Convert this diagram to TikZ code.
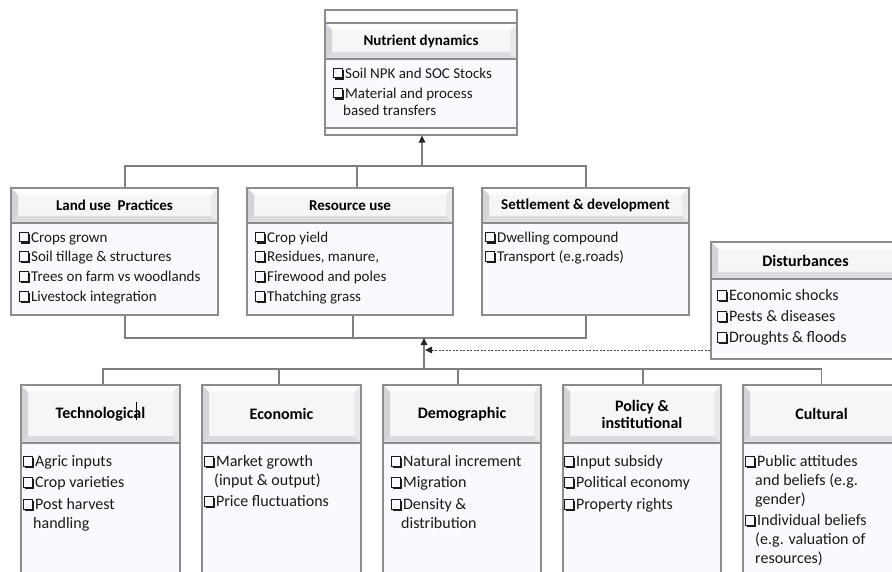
\documentclass[tikz,border=0pt]{standalone}
\usepackage{fontspec}
\setmainfont{Carlito}
\usetikzlibrary{arrows.meta}
\definecolor{bordc}{HTML}{8C8C8C}
\definecolor{bodyc}{HTML}{FAF9FD}
\definecolor{hdrc}{HTML}{F6F6F8}
\definecolor{bevL}{HTML}{D4D4D8}
\definecolor{bevB}{HTML}{DCDCE0}
\definecolor{bevR}{HTML}{EAEAEC}
\definecolor{bevT}{HTML}{FDFDFE}
\definecolor{linec}{HTML}{7F7F7F}
\definecolor{txtc}{HTML}{1A1A1A}
\newcommand\cb{\tikz[baseline={(0,0)},x=1pt,y=1pt]{\draw[line width=0.85pt] (0.5,0.2) rectangle (9,10); \fill (1.8,-1.6) rectangle (10.8,0.2); \fill (9,-1.6) rectangle (10.8,8.6);}\hspace{1.2pt}}
\newcommand\ind{\hspace*{10pt}}
\newcommand\mkbox[8]{%
  \node[hdr, font=#7, minimum width={#3-#2}, minimum height={#5-#4}] (#1H) at ({(#2+#3)/2},{(#4+#5)/2}) {#8};
  \node[bodybox, minimum width={#3-#2}, minimum height={#6-#5}] (#1B) at ({(#2+#3)/2},{(#5+#6)/2}) {};
}
\tikzset{
  hdr/.style={draw=bordc, line width=1.2pt, fill=hdrc, text=black, align=center, inner sep=0pt,
    path picture={
      \fill[bevT] (path picture bounding box.north west) -- ([shift={(7,7)}]path picture bounding box.north west) -- ([shift={(-7,7)}]path picture bounding box.north east) -- (path picture bounding box.north east) -- cycle;
      \fill[bevL] (path picture bounding box.north west) -- ([shift={(7,7)}]path picture bounding box.north west) -- ([shift={(7,-7)}]path picture bounding box.south west) -- (path picture bounding box.south west) -- cycle;
      \fill[bevB] (path picture bounding box.south west) -- ([shift={(7,-7)}]path picture bounding box.south west) -- ([shift={(-7,-7)}]path picture bounding box.south east) -- (path picture bounding box.south east) -- cycle;
      \fill[bevR] (path picture bounding box.north east) -- ([shift={(-7,7)}]path picture bounding box.north east) -- ([shift={(-7,-7)}]path picture bounding box.south east) -- (path picture bounding box.south east) -- cycle;
    }},
  bodybox/.style={draw=bordc, line width=1.2pt, fill=bodyc, inner sep=0pt},
  lst/.style={anchor=north west, align=left, inner sep=0pt, text=txtc},
  uptxt/.style={lst, font=\fontsize{15}{17}\selectfont},
  lowtxt/.style={lst, font=\fontsize{16}{19}\selectfont},
  conn/.style={draw=linec, line width=1.2pt},
  arr/.style={conn, -{Triangle[length=7pt,width=6.5pt,color=black!85]}},
  dsh/.style={draw=black!70, line width=0.8pt, dash pattern=on 2pt off 1.5pt, -{Triangle[length=7pt,width=6.5pt,color=black!85]}}
}
\begin{document}
\begin{tikzpicture}[x=1pt,y=-1pt]
\useasboundingbox (0,0) rectangle (892,572);
\clip (0,0) rectangle (892,572);
\fill[white] (0,0) rectangle (892,572);

% Nutrient dynamics
\node[draw=bordc, line width=1.2pt, fill=white, minimum width=192, minimum height=125, inner sep=0pt] (nut) at (421,72.5) {};
\mkbox{nut}{325}{517}{23}{59}{128}{\fontsize{15}{18}\bfseries\selectfont}{Nutrient dynamics}
\node[uptxt] (nutT) at (333,67.5) {\cb Soil NPK and SOC Stocks\\[3pt]\cb Material and process\\\ind based transfers};

% upper row
\mkbox{lu}{11}{218}{188}{223}{315}{\fontsize{15}{18}\bfseries\selectfont}{Land use\ \ Practices}
\mkbox{re}{247}{453}{188}{223}{315}{\fontsize{15}{18}\bfseries\selectfont}{Resource use}
\mkbox{se}{482}{689}{188}{223}{315}{\fontsize{15}{18}\bfseries\selectfont}{Settlement \& development}
\node[uptxt] (luT) at (19,231.5) {\cb Crops grown\\[2.7pt]\cb Soil tillage \& structures\\[2.7pt]\cb Trees on farm vs woodlands\\[2.7pt]\cb Livestock integration};
\node[uptxt] (reT) at (255,231.5) {\cb Crop yield\\[2.7pt]\cb Residues, manure,\\[2.7pt]\cb Firewood and poles\\[2.7pt]\cb Thatching grass};
\node[uptxt] (seT) at (485,231.5) {\cb Dwelling compound\\[2.7pt]\cb Transport (e.g.roads)};

% Disturbances
\mkbox{dist}{711}{900}{242}{279}{359}{\fontsize{16}{19}\bfseries\selectfont}{Disturbances}
\node[lowtxt] (distT) at (717,289.5) {\cb Economic shocks\\[2pt]\cb Pests \& diseases\\[2pt]\cb Droughts \& floods};

% lower row
\mkbox{tech}{21}{180}{385}{443}{600}{\fontsize{16}{17}\bfseries\selectfont}{Technological}
\mkbox{econ}{202}{361}{385}{443}{600}{\fontsize{16}{17}\bfseries\selectfont}{Economic}
\mkbox{demo}{383}{541}{385}{443}{600}{\fontsize{16}{17}\bfseries\selectfont}{Demographic}
\mkbox{pol}{563}{721}{385}{443}{600}{\fontsize{16}{17}\bfseries\selectfont}{Policy \&\\institutional}
\mkbox{cult}{743}{900}{385}{443}{600}{\fontsize{16}{17}\bfseries\selectfont}{Cultural}
\node[lowtxt] (techT) at (23,455) {\cb Agric inputs\\[2.5pt]\cb Crop varieties\\[2.5pt]\cb Post harvest\\\ind handling};
\node[lowtxt] (econT) at (204,455) {\cb Market growth\\\ind (input \& output)\\[2.5pt]\cb Price fluctuations};
\node[lowtxt] (demoT) at (391,455) {\cb Natural increment\\[2.5pt]\cb Migration\\[2.5pt]\cb Density \&\\\ind distribution};
\node[lowtxt] (polT) at (564,455) {\cb Input subsidy\\[2.5pt]\cb Political economy\\[2.5pt]\cb Property rights};
\node[lowtxt] (cultT) at (745,455) {\cb Public attitudes\\\ind and beliefs (e.g.\\\ind gender)\\[2.5pt]\cb Individual beliefs\\\ind (e.g. valuation of\\\ind resources)};

% cursor mark
\draw[black, line width=0.6pt] (136,402) -- (136,420);

% connectors
\coordinate (topj) at (422,166);
\coordinate (midj) at (424,338);
\coordinate (lowj) at (424,369);
\coordinate (dtip) at (425,350);
\draw[conn] ([xshift=10.5pt]luH.north) |- (topj) -| ([xshift=0.5pt]seH.north);
\draw[conn] ([xshift=7pt]reH.north) |- (topj);
\draw[arr] (topj) -- (topj |- nut.south);

\draw[conn] ([xshift=10.5pt]luB.south) |- (midj) -| ([xshift=0.5pt]seB.south);
\draw[conn] ([xshift=3pt]reB.south) |- (midj);

\draw[conn] ([xshift=2.5pt]techH.north) |- (lowj) -| (cultH.north);
\draw[conn] ([xshift=-2.5pt]econH.north) |- (lowj);
\draw[conn] ([xshift=-4pt]demoH.north) |- (lowj);
\draw[conn] ([xshift=1pt]polH.north) |- (lowj);
\draw[arr] (lowj) -- (midj);
\draw[dsh] (distB.west |- dtip) -- (dtip);
\end{tikzpicture}
\end{document}
